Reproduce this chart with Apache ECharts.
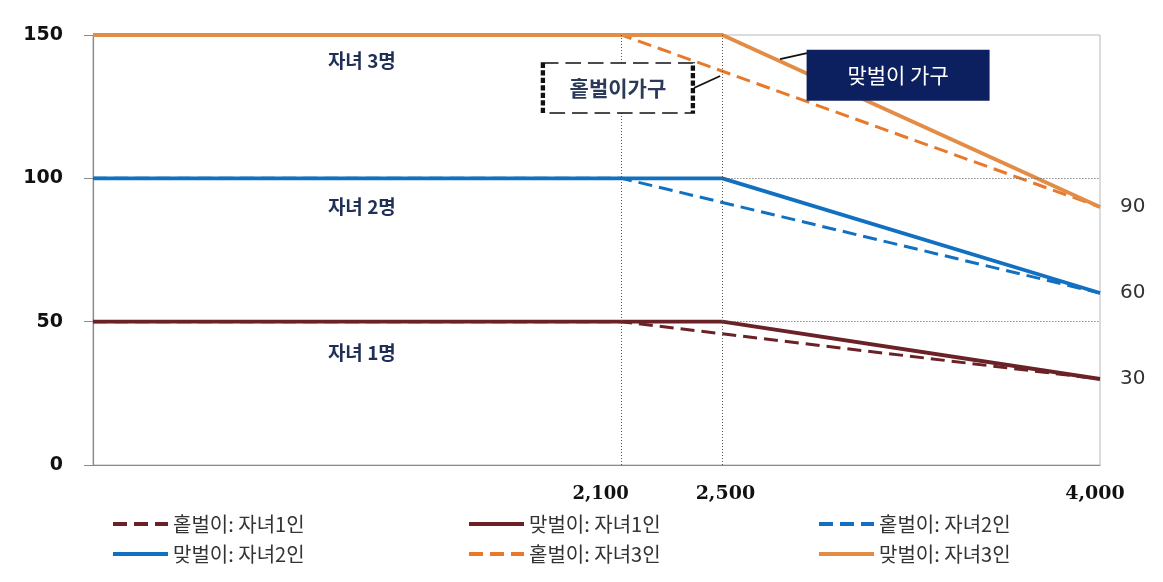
<!DOCTYPE html>
<html>
<head>
<meta charset="utf-8">
<script src="https://cdn.jsdelivr.net/npm/echarts@6/dist/echarts.min.js"></script>
<style>
html,body{margin:0;padding:0;background:#fff;}
#c{width:1163px;height:582px;}
</style>
</head>
<body>
<div id="c"></div>
<script>
// ---- data ----
const seriesNames = ['홑벌이: 자녀1인','맞벌이: 자녀1인','홑벌이: 자녀2인','맞벌이: 자녀2인','홑벌이: 자녀3인','맞벌이: 자녀3인'];
const holX = [0, 2100, 4000];   // 홑벌이 income breakpoints
const matX = [0, 2500, 4000];   // 맞벌이 income breakpoints
const hol1 = [50, 50, 30];
const mat1 = [50, 50, 30];
const hol2 = [100, 100, 60];
const mat2 = [100, 100, 60];
const hol3 = [150, 150, 90];
const mat3 = [150, 150, 90];
const xTickValues = [2100, 2500, 4000];
const xTickLabels = ['2,100', '2,500', '4,000'];
const yTickValues = [0, 50, 100, 150];
const rightTickValues = [30, 60, 90];
const childLabels = ['자녀 1명', '자녀 2명', '자녀 3명'];
const childLabelY = [39, 90, 141];
const childLabelX = 1068;
const holBoxText = '홑벌이가구';
const matBoxText = '맞벌이 가구';

const colors = {
  maroon: '#6b2226',
  blue: '#1170c0',
  orangeDash: '#e8792a',
  orangeSolid: '#e28c45'
};

function pts(xs, ys){ return xs.map((x,i)=>[x, ys[i]]); }

const dashStyle = [14, 7];
function mkSeries(name, xs, ys, color, dashed){
  return {
    name: name, type: 'line', data: pts(xs, ys),
    showSymbol: false, symbol: 'none', silent: true,
    z: dashed ? 2 : 3,
    lineStyle: { color: color, width: dashed ? 3 : 3.8, type: dashed ? dashStyle : 'solid' },
    itemStyle: { color: color }
  };
}

const s = [
  mkSeries(seriesNames[0], holX, hol1, colors.maroon, true),
  mkSeries(seriesNames[1], matX, mat1, colors.maroon, false),
  mkSeries(seriesNames[2], holX, hol2, colors.blue, true),
  mkSeries(seriesNames[3], matX, mat2, colors.blue, false),
  mkSeries(seriesNames[4], holX, hol3, colors.orangeDash, true),
  mkSeries(seriesNames[5], matX, mat3, colors.orangeSolid, false)
];

// helper series for reference lines and annotations
const dotted = { color: '#555', width: 1, type: [1, 2] };
s.push({
  name: 'ref', type: 'line', data: [], silent: true, z: 1,
  markLine: {
    symbol: 'none', silent: true, label: { show: false },
    lineStyle: dotted,
    data: [
      [{ coord: [holX[1], 150] }, { coord: [holX[1], 0] }],
      [{ coord: [matX[1], 150] }, { coord: [matX[1], 0] }],
      [{ coord: [matX[1], mat2[1]] }, { coord: [4000, mat2[1]] }],
      [{ coord: [matX[1], mat1[1]] }, { coord: [4000, mat1[1]] }]
    ]
  },
  markPoint: {
    symbol: 'circle', symbolSize: 0, silent: true,
    label: { show: true, color: '#1f2f55', fontWeight: 'bold', fontSize: 19,
             fontFamily: 'Noto Sans CJK KR' },
    data: childLabels.map((t, i) => ({ coord: [childLabelX, childLabelY[i]], value: t,
            label: { formatter: t } }))
  }
});
// annotation boxes
s.push({
  name: 'boxes', type: 'line', data: [], silent: true, z: 5,
  markLine: {
    symbol: 'none', silent: true, label: { show: false },
    lineStyle: { color: '#111', width: 1.8, type: 'solid' },
    data: [
      [{ coord: [2387, 131.5] }, { coord: [2491, 135.7] }],
      [{ coord: [2729, 141.6] }, { coord: [2836, 143.7] }]
    ]
  },
  markPoint: {
    silent: true,
    data: [
      { coord: [2085, 131.5], symbol: 'rect', symbolSize: [150, 50],
        itemStyle: { color: '#fff', borderColor: '#111', borderWidth: 2.5, borderType: [9, 4] },
        label: { show: true, formatter: holBoxText, color: '#2b3a58', fontSize: 21,
                 fontWeight: 'bold', fontFamily: 'Noto Sans CJK KR' } },
      { coord: [3198, 136], symbol: 'rect', symbolSize: [183, 51],
        itemStyle: { color: '#0c1f5e' },
        label: { show: true, formatter: matBoxText, color: '#fff', fontSize: 21,
                 fontFamily: 'Noto Sans CJK KR' } }
    ]
  }
});

const xLabelRich = {
  a: { fontFamily: 'DejaVu Serif', fontWeight: 'bold', fontSize: 18, color: '#111', padding: [0, 42, 0, 0] },
  b: { fontFamily: 'DejaVu Serif', fontWeight: 'bold', fontSize: 19, color: '#111', padding: [0, 0, 0, 6] },
  c: { fontFamily: 'DejaVu Serif', fontWeight: 'bold', fontSize: 19, color: '#111', padding: [0, 10, 0, 0] }
};
const richKeys = ['a', 'b', 'c'];

function mkLegend(left, names){
  return {
    left: left, top: 509, orient: 'vertical', itemGap: 10,
    itemWidth: 55, itemHeight: 14, selectedMode: false,
    itemStyle: { opacity: 0 },
    lineStyle: { width: 4 },
    data: names,
    textStyle: { fontSize: 20, color: '#333', fontFamily: 'Noto Sans CJK KR', padding: [0,0,0,0] }
  };
}

const option = {
  backgroundColor: '#fff',
  animation: false,
  grid: { left: 93, right: 63, top: 35, bottom: 117, show: true, borderColor: '#b8b8b8', borderWidth: 1 },
  legend: [
    mkLegend(106, [seriesNames[0], seriesNames[3]]),
    mkLegend(462, [seriesNames[1], seriesNames[4]]),
    mkLegend(812, [seriesNames[2], seriesNames[5]])
  ],
  xAxis: {
    type: 'value', min: 0, max: 4000,
    axisLine: { show: true, lineStyle: { color: '#8a8a8a', width: 1.2 } },
    axisTick: { show: false },
    splitLine: { show: false },
    axisLabel: {
      customValues: xTickValues, margin: 20,
      formatter: function(v){ const i = xTickValues.indexOf(v); return '{' + richKeys[i] + '|' + xTickLabels[i] + '}'; },
      rich: xLabelRich
    }
  },
  yAxis: [{
    type: 'value', min: 0, max: 150, interval: 50,
    axisLine: { show: true, lineStyle: { color: '#8a8a8a', width: 1.2 } },
    axisTick: { show: true, length: 9, lineStyle: { color: '#8a8a8a' } },
    splitLine: { show: false },
    axisLabel: { customValues: yTickValues, margin: 30, fontFamily: 'DejaVu Sans', fontWeight: 'bold', fontSize: 19, color: '#111' }
  }, {
    type: 'value', min: 0, max: 150, position: 'right',
    axisLine: { show: false }, axisTick: { show: false }, splitLine: { show: false },
    axisLabel: { customValues: rightTickValues, margin: 20, fontFamily: 'DejaVu Sans', fontSize: 20, color: '#333' }
  }],
  series: s
};

const chart = echarts.init(document.getElementById('c'), null, { renderer: 'canvas' });
chart.setOption(option);
</script>
</body>
</html>
